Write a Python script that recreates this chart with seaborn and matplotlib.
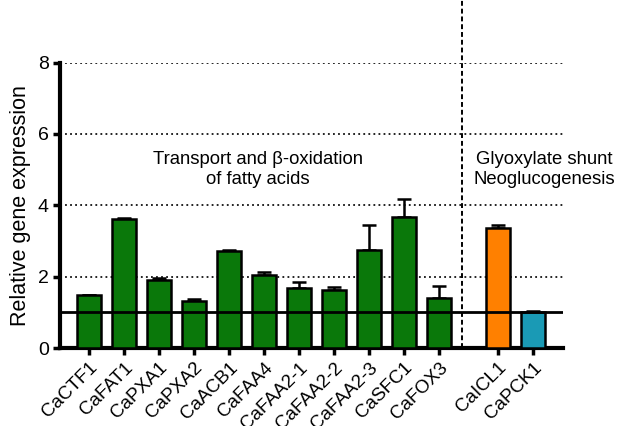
import numpy as np
import pandas as pd
import matplotlib
matplotlib.use("Agg")
import matplotlib.pyplot as plt
import seaborn as sns

# Relative expression of genes (mean and upper SD)
genes = ["CaCTF1", "CaFAT1", "CaPXA1", "CaPXA2", "CaACB1", "CaFAA4", "CaFAA2-1",
         "CaFAA2-2", "CaFAA2-3", "CaSFC1", "CaFOX3", "CaICL1", "CaPCK1"]
expression = [1.48, 3.63, 1.92, 1.32, 2.73, 2.06, 1.67, 1.62, 2.76, 3.68, 1.41, 3.37, 1.02]
sd = [0.02, 0.02, 0.05, 0.05, 0.02, 0.06, 0.18, 0.08, 0.70, 0.49, 0.34, 0.09, 0.02]
groups = ["fatty"] * 11 + ["glyox", "neo"]
group_colors = {"fatty": "#0a780a", "glyox": "#ff8000", "neo": "#1a9ab5"}
group_titles = ["Transport and β-oxidation\nof fatty acids", "Glyoxylate shunt\nNeoglucogenesis"]
yticks = [0, 2, 4, 6, 8]

sns.set_theme(style="white")
plt.rcParams["font.family"] = ["Liberation Sans", "DejaVu Sans"]
plt.rcParams["text.color"] = "black"
plt.rcParams["axes.labelcolor"] = "black"
plt.rcParams["xtick.color"] = "black"
plt.rcParams["ytick.color"] = "black"

# bar positions: first group consecutive, second group shifted right
pos = np.arange(len(genes), dtype=float)
pos[11:] += 0.69
df = pd.DataFrame({"pos": pos, "expr": expression, "group": groups})

fig = plt.figure(figsize=(6.18, 4.26), dpi=100)
ax = fig.add_axes([0.0971, 0.183, 0.814, 0.670])

# dotted grid lines
for y in yticks[1:]:
    ax.axhline(y, color="#111111", lw=1.3, ls=(0, (1, 1.8)), zorder=0)

sns.barplot(data=df, x="pos", y="expr", hue="group", palette=group_colors,
            native_scale=True, width=0.69, errorbar=None, legend=False,
            saturation=1, edgecolor="black", linewidth=1.8, ax=ax, zorder=3)

ax.errorbar(pos, expression, yerr=[np.zeros(len(sd)), sd], fmt="none",
            ecolor="black", elinewidth=1.8, capsize=5, capthick=1.8, zorder=2)

# reference level
ax.axhline(1, color="black", lw=2, zorder=4)

# separator between the two groups
ax.plot([10.66, 10.66], [0, 9.8], color="black", lw=1.4, ls=(0, (2.5, 1.5)),
        clip_on=False, zorder=5)

ax.text(4.83, 5.0, group_titles[0], ha="center", va="center", fontsize=13.3,
        linespacing=1.25)
ax.text(13.01, 5.0, group_titles[1], ha="center", va="center", fontsize=13.3,
        linespacing=1.25, clip_on=False)

ax.set_xlim(-0.83, 13.55)
ax.set_ylim(0, 8)
ax.set_yticks(yticks)
ax.set_yticklabels([str(v) for v in yticks], fontsize=14)
ax.set_xticks(pos)
ax.set_xticklabels(genes, rotation=45, ha="right", rotation_mode="anchor",
                   fontsize=13.5)
ax.set_xlabel("")
ax.set_ylabel("Relative gene expression", fontsize=15.5, labelpad=5)

for side in ["top", "right"]:
    ax.spines[side].set_visible(False)
for side in ["left", "bottom"]:
    ax.spines[side].set_linewidth(3)
    ax.spines[side].set_color("black")
ax.tick_params(axis="both", which="major", direction="out", length=5, width=2.5,
               color="black", left=True, bottom=True, pad=3)

fig.savefig("out.png", dpi=100)
